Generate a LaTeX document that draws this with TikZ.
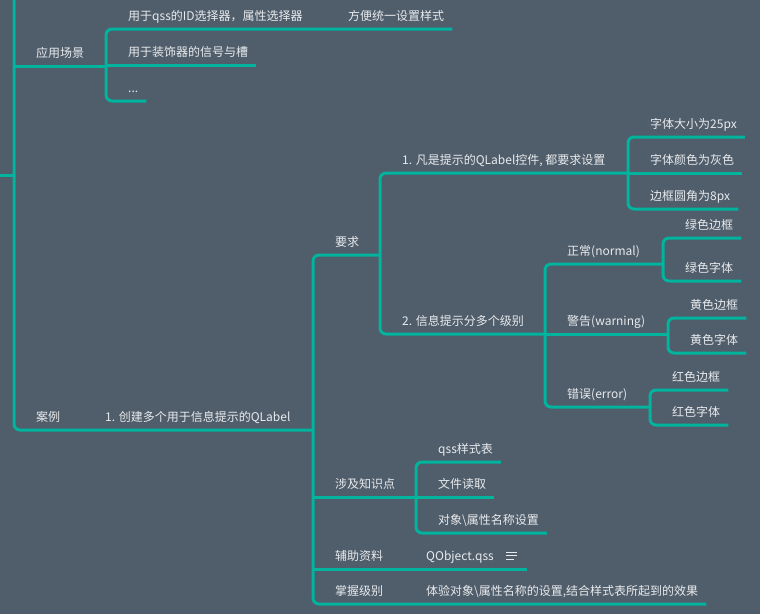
\documentclass[tikz,border=0pt]{standalone}
\usepackage{fontspec}
\newfontfamily\cjk{Noto Sans CJK SC}
\usepackage{tikz}
\usetikzlibrary{calc}
\definecolor{mmbg}{RGB}{80,93,106}
\definecolor{mmteal}{RGB}{0,180,158}
\definecolor{mmtext}{RGB}{232,235,238}
\newcommand{\topic}[4]{%
  \coordinate (#1-j) at (#2,#3);
  \node[topic] (#1) at ({#2+22},{#3-9}) {#4};
  \coordinate (#1-e) at ([shift={(8,9)}]#1.base east);
}

\begin{document}
\begin{tikzpicture}[x=1pt,y=-1pt,
    topic/.style={anchor=base west,inner sep=0pt,text=mmtext,font=\cjk\fontsize{12}{14}\selectfont},
    branch/.style={draw=mmteal,line width=3pt,rounded corners=6pt},
    notemark/.style={draw=mmtext,line width=1pt}]
  \fill[mmbg] (0,0) rectangle (760,614);
  \useasboundingbox (0,0) rectangle (760,614);
  \coordinate (top) at (14,-5);
  \coordinate (root) at (0,175);
  \topic{yycj}{14}{66}{应用场景}
  \topic{ys1}{106}{29}{用于qss的ID选择器，属性选择器}
  \topic{fx}{326}{29}{方便统一设置样式}
  \topic{ys2}{106}{65}{用于装饰器的信号与槽}
  \topic{ys3}{106}{101}{...}
  \topic{al}{14}{430}{案例}
  \topic{cj}{83}{430}{1. 创建多个用于信息提示的QLabel}
  \topic{yq}{313}{255}{要求}
  \topic{yq1}{380}{173}{1. 凡是提示的QLabel控件, 都要求设置}
  \topic{zt1}{628}{137}{字体大小为25px}
  \topic{zt2}{628}{173}{字体颜色为灰色}
  \topic{zt3}{628}{209}{边框圆角为8px}
  \topic{yq2}{380}{334}{2. 信息提示分多个级别}
  \topic{zc}{545}{264}{正常(normal)}
  \topic{gr1}{663}{238}{绿色边框}
  \topic{gr2}{663}{281}{绿色字体}
  \topic{jg}{545}{334}{警告(warning)}
  \topic{ye1}{668}{318}{黄色边框}
  \topic{ye2}{668}{353}{黄色字体}
  \topic{cw}{545}{407}{错误(error)}
  \topic{rd1}{650}{390}{红色边框}
  \topic{rd2}{650}{425}{红色字体}
  \topic{sj}{313}{497}{涉及知识点}
  \topic{zs1}{416}{462}{qss样式表}
  \topic{zs2}{416}{497}{文件读取}
  \topic{zs3}{416}{533}{对象\textbackslash 属性名称设置}
  \topic{fz}{313}{569}{辅助资料}
  \topic{qo}{404}{569}{QObject.qss}
  \topic{zw}{313}{604}{掌握级别}
  \topic{zw1}{404}{604}{体验对象\textbackslash 属性名称的设置,结合样式表所起到的效果}
  \coordinate (note) at ([shift={(12,-8)}]qo.base east);
  \coordinate (fz-end) at ($(note |- fz-j)+(21,0)$);

  \draw[branch] (root) -- (root -| al-j);
  \draw[branch] (top) |- (al-j -| yq-j);
  \draw[branch] (yycj-j) -- (yycj-j -| ys1-j);
  \draw[branch] (fx-e) -| (ys3-j) -- (ys3-e);
  \draw[branch] (ys2-j) -- (ys2-e);
  \draw[branch] (yq-j -| yq1-j) -| (zw-j) -- (zw1-e);
  \draw[branch] (yq1-j -| zt1-j) -| (yq2-j) -- (yq2-j -| jg-j);
  \draw[branch] (zt1-e) -| (zt3-j) -- (zt3-e);
  \draw[branch] (zt2-j) -- (zt2-e);
  \draw[branch] (zc-j -| gr1-j) -| (cw-j) -- (cw-j -| rd1-j);
  \draw[branch] (jg-j) -- (jg-j -| ye1-j);
  \draw[branch] (gr1-e) -| (gr2-j) -- (gr2-e);
  \draw[branch] (ye1-e) -| (ye2-j) -- (ye2-e);
  \draw[branch] (rd1-e) -| (rd2-j) -- (rd2-e);
  \draw[branch] (sj-j) -- (sj-j -| zs1-j);
  \draw[branch] (zs1-e) -| (zs3-j) -- (zs3-e);
  \draw[branch] (zs2-j) -- (zs2-e);
  \draw[branch] (fz-j) -- (fz-end);
  \draw[notemark] (note) -- ++(11,0) ($(note)+(0,3.5)$) -- ++(11,0)
    ($(note)+(0,7)$) -- ++(8,0);
\end{tikzpicture}
\end{document}
